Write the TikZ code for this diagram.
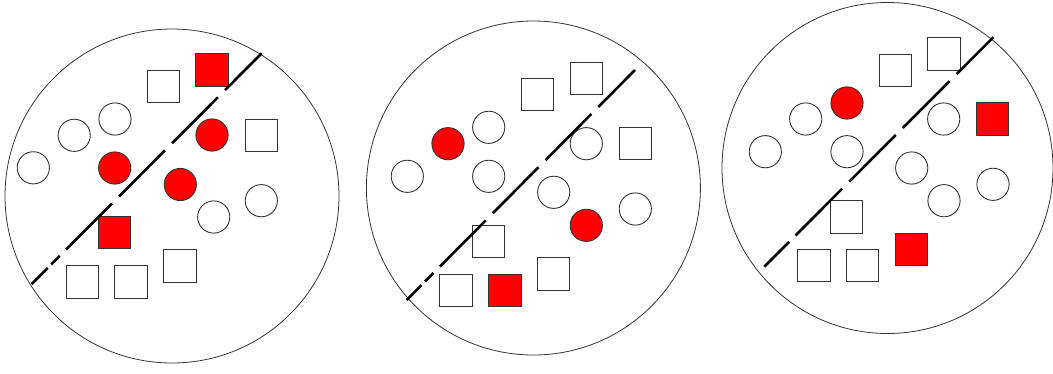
\documentclass[tikz,border=0pt]{standalone}
\begin{document}
\begin{tikzpicture}[x=1pt,y=-1pt,
  pool/.style={draw=black!80,circle,line width=0.8pt,inner sep=0pt,minimum size=334pt},
  ball/.style={draw=black!80,circle,line width=0.9pt,inner sep=0pt,minimum size=32.2pt},
  cube/.style={draw=black!80,rectangle,line width=0.9pt,inner sep=0pt,minimum size=32.2pt},
  hit/.style={fill=red},
  divider/.style={line width=2.6pt,dash pattern=on 52pt off 10pt on 65pt off 10pt on 65pt off 10pt on 65pt off 9pt on 12pt off 5pt on 40pt}]
\useasboundingbox (0,0) rectangle (1053,373);
% left sample
\node[pool] (pa) at (172,196) {};
\node[ball] (pa-o1) at (33.3,167.8) {};
\node[ball] (pa-o2) at (74.2,135.3) {};
\node[ball] (pa-o3) at (115,119) {};
\node[ball,hit] (pa-o4) at (114.7,168) {};
\node[ball,hit] (pa-o5) at (212,135) {};
\node[ball,hit] (pa-o6) at (180.3,184.5) {};
\node[ball] (pa-o7) at (261.3,200.7) {};
\node[ball] (pa-o8) at (213.7,217) {};
\node[cube] (pa-s1) at (163.8,86.3) {};
\node[cube,hit] (pa-s2) at (212,70) {};
\node[cube] (pa-s3) at (261.3,135.7) {};
\node[cube,hit] (pa-s4) at (114.7,232.7) {};
\node[cube] (pa-s5) at (180,266) {};
\node[cube] (pa-s6) at (82.3,282) {};
\node[cube] (pa-s7) at (131,282) {};
\coordinate (pa-top) at (261.7,53.3);
\coordinate (pa-bot) at (31.7,284);
\draw[divider] (pa-top) -- (pa-bot);
% middle sample
\node[pool] (pb) at (533.4,188) {};
\node[ball,hit] (pb-o1) at (448,143.7) {};
\node[ball] (pb-o2) at (488.7,127.3) {};
\node[ball] (pb-o3) at (407.3,176.3) {};
\node[ball] (pb-o4) at (488.7,176.3) {};
\node[ball] (pb-o5) at (586.3,143.7) {};
\node[ball] (pb-o6) at (553.7,192.3) {};
\node[ball] (pb-o7) at (635.3,209) {};
\node[ball,hit] (pb-o8) at (586.3,225.3) {};
\node[cube] (pb-s1) at (537.7,94.7) {};
\node[cube] (pb-s2) at (586.3,78.7) {};
\node[cube] (pb-s3) at (635.3,143.7) {};
\node[cube] (pb-s4) at (488.7,241.3) {};
\node[cube] (pb-s5) at (553.7,274) {};
\node[cube] (pb-s6) at (456,290.7) {};
\node[cube,hit] (pb-s7) at (505,290.7) {};
\coordinate (pb-top) at (635,70);
\coordinate (pb-bot) at (406.7,300);
\draw[divider] (pb-top) -- (pb-bot);
% right sample
\node[pool,minimum size=331pt] (pc) at (887.5,168) {};
\node[ball,hit] (pc-o1) at (847,103) {};
\node[ball] (pc-o2) at (805.7,119) {};
\node[ball] (pc-o3) at (765.3,151.7) {};
\node[ball] (pc-o4) at (847,151.7) {};
\node[ball] (pc-o5) at (943.7,119) {};
\node[ball] (pc-o6) at (911.7,168) {};
\node[ball] (pc-o7) at (993,184.3) {};
\node[ball] (pc-o8) at (944,200.7) {};
\node[cube] (pc-s1) at (895.3,70.3) {};
\node[cube] (pc-s2) at (944,54) {};
\node[cube,hit] (pc-s3) at (992.7,119) {};
\node[cube] (pc-s4) at (846.3,217) {};
\node[cube,hit] (pc-s5) at (911.7,249.7) {};
\node[cube] (pc-s6) at (814,265.7) {};
\node[cube] (pc-s7) at (862.7,265.7) {};
\coordinate (pc-top) at (993.3,37.3);
\coordinate (pc-bot) at (764.3,266.7);
\draw[divider,dash pattern=on 52pt off 10pt on 66pt off 10pt on 66pt off 10pt on 66pt off 9pt on 40pt] (pc-top) -- (pc-bot);
\end{tikzpicture}
\end{document}
